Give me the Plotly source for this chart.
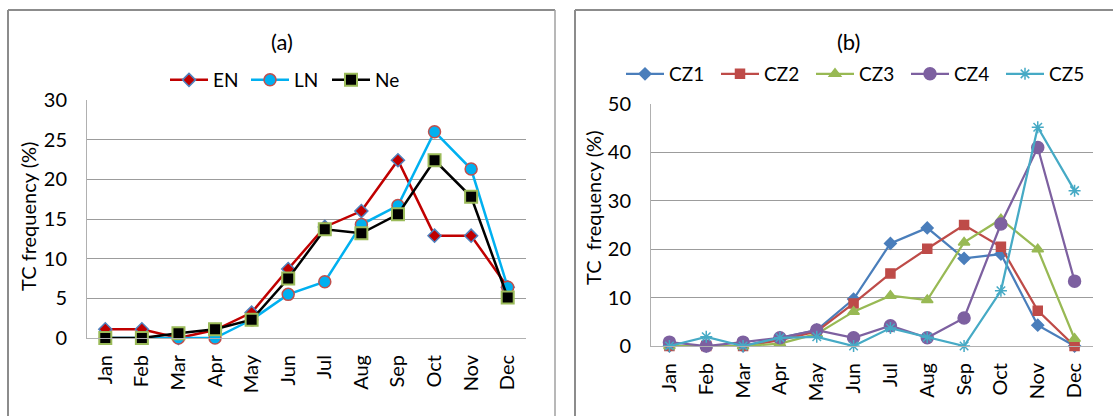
import plotly.graph_objects as go

W, H = 1113, 416

months = ["Jan", "Feb", "Mar", "Apr", "May", "Jun",
          "Jul", "Aug", "Sep", "Oct", "Nov", "Dec"]

# (a) ENSO phases
en = [1.1, 1.1, 0.0, 1.0, 3.2, 8.7, 14.0, 16.0, 22.4, 12.9, 12.9, 6.4]
ln = [0.0, 0.0, 0.0, 0.0, 2.3, 5.5, 7.1, 14.3, 16.7, 26.0, 21.3, 6.4]
ne = [0.0, 0.0, 0.6, 1.1, 2.3, 7.5, 13.7, 13.2, 15.6, 22.4, 17.8, 5.1]

# (b) climate zones
cz1 = [0.0, 0.0, 0.0, 1.7, 3.3, 9.7, 21.2, 24.4, 18.1, 19.0, 4.3, 0.0]
cz2 = [0.0, 0.0, 0.0, 1.2, 3.0, 8.8, 15.0, 20.1, 25.0, 20.5, 7.3, 0.0]
cz3 = [0.0, 0.0, 0.0, 0.5, 2.5, 7.1, 10.4, 9.5, 21.4, 26.2, 20.0, 1.5]
cz4 = [0.8, 0.0, 0.8, 1.7, 3.3, 1.7, 4.2, 1.7, 5.8, 25.2, 41.0, 13.4]
cz5 = [0.0, 1.9, 0.0, 1.7, 1.9, 0.0, 3.7, 1.8, 0.0, 11.4, 45.2, 32.1]

FONT = "Lato"
GRID = "#9c9c9c"
AXIS = "#b0b0b0"
FRAME = "#8c8c8c"


def px(x):
    return x / W


def py(y):
    return 1 - y / H


fig = go.Figure()

panel_a = [
    ("EN", en, "#C00000", "diamond", 10, "#C00000", "#4F81BD", 1.5),
    ("LN", ln, "#00B0F0", "circle", 12, "#00B0F0", "#C0504D", 1.5),
    ("Ne", ne, "#000000", "square", 12, "#000000", "#9BBB59", 2),
]
for name, vals, col, sym, size, fill, edge, ew in panel_a:
    fig.add_trace(go.Scatter(
        x=months, y=vals, name=name, mode="lines+markers",
        line=dict(color=col, width=2.5),
        marker=dict(symbol=sym, size=size, color=fill,
                    line=dict(color=edge, width=ew)),
        cliponaxis=False, xaxis="x", yaxis="y", legend="legend",
    ))

panel_b = [
    ("CZ1", cz1, "#4A7EBB", "diamond", 9),
    ("CZ2", cz2, "#BE4B48", "square", 9),
    ("CZ3", cz3, "#98B954", "triangle-up", 10),
    ("CZ4", cz4, "#7D60A0", "circle", 12),
    ("CZ5", cz5, "#46AAC5", "asterisk-open", 10),
]
for name, vals, col, sym, size in panel_b:
    fig.add_trace(go.Scatter(
        x=months, y=vals, name=name, mode="lines+markers",
        line=dict(color=col, width=2.25),
        marker=dict(symbol=sym, size=size, color=col,
                    line=dict(color=col, width=1.5)),
        cliponaxis=False, xaxis="x2", yaxis="y2", legend="legend2",
    ))

tickfont = dict(family=FONT, size=20, color="#000000")

xcommon = dict(type="category", categoryorder="array", categoryarray=months,
               range=[-0.5, 11.5], tickangle=-90, tickfont=tickfont,
               showgrid=False, showline=True, linecolor=AXIS, linewidth=1,
               ticks="", ticklabelstandoff=8, zeroline=False,
               automargin=False)
ycommon = dict(showgrid=True, gridcolor=GRID, gridwidth=1, showline=True,
               linecolor=AXIS, linewidth=1, ticks="", tickfont=tickfont,
               ticklabelstandoff=15, zeroline=False, automargin=False)

legfont = dict(family=FONT, size=19, color="#000000")

fig.update_layout(
    width=W, height=H,
    margin=dict(l=0, r=0, t=0, b=0, autoexpand=False),
    paper_bgcolor="white", plot_bgcolor="white",
    font=dict(family=FONT, color="#000000"),
    xaxis=dict(domain=[px(87), px(526)], anchor="y", **xcommon),
    yaxis=dict(domain=[py(338), py(100)], anchor="x", range=[0, 30],
               tickvals=[0, 5, 10, 15, 20, 25, 30], **ycommon),
    xaxis2=dict(domain=[px(651), px(1093)], anchor="y2", **xcommon),
    yaxis2=dict(domain=[py(346), py(104)], anchor="x2", range=[0, 50],
                tickvals=[0, 10, 20, 30, 40, 50], **ycommon),
    legend=dict(orientation="h", x=px(165), y=py(80), xanchor="left",
                yanchor="middle", font=legfont,
                itemwidth=38, entrywidth=28, bgcolor="rgba(0,0,0,0)",
                tracegroupgap=0),
    legend2=dict(orientation="h", x=px(621), y=py(74), xanchor="left",
                 yanchor="middle", font=legfont,
                 itemwidth=38, entrywidth=42, bgcolor="rgba(0,0,0,0)",
                 tracegroupgap=0),
    showlegend=True,
)

# panel titles and axis titles
ann = dict(xref="paper", yref="paper", showarrow=False,
           xanchor="center", yanchor="middle")
fig.add_annotation(text="(a)", x=px(282), y=py(42),
                   font=dict(family=FONT, size=22), **ann)
fig.add_annotation(text="(b)", x=px(848), y=py(42),
                   font=dict(family=FONT, size=22), **ann)
fig.add_annotation(text="TC frequency (%)", x=px(28), y=py(217),
                   textangle=-90, font=dict(family=FONT, size=20), **ann)
fig.add_annotation(text="TC&nbsp;&nbsp;frequency (%)", x=px(593), y=py(208),
                   textangle=-90, font=dict(family=FONT, size=20), **ann)

# chart frames around each panel
frame = dict(color=FRAME, width=2)
fig.add_shape(type="line", xref="paper", yref="paper",
              x0=px(8), x1=px(555), y0=py(10), y1=py(10), line=frame)
fig.add_shape(type="line", xref="paper", yref="paper",
              x0=px(8), x1=px(8), y0=py(10), y1=py(420), line=frame)
fig.add_shape(type="line", xref="paper", yref="paper",
              x0=px(555), x1=px(555), y0=py(10), y1=py(420),
              line=dict(color="#a0a0a0", width=1.5))
fig.add_shape(type="line", xref="paper", yref="paper",
              x0=px(575), x1=px(1113), y0=py(10), y1=py(10), line=frame)
fig.add_shape(type="line", xref="paper", yref="paper",
              x0=px(575), x1=px(575), y0=py(10), y1=py(420), line=frame)

fig.write_html("out.html")
